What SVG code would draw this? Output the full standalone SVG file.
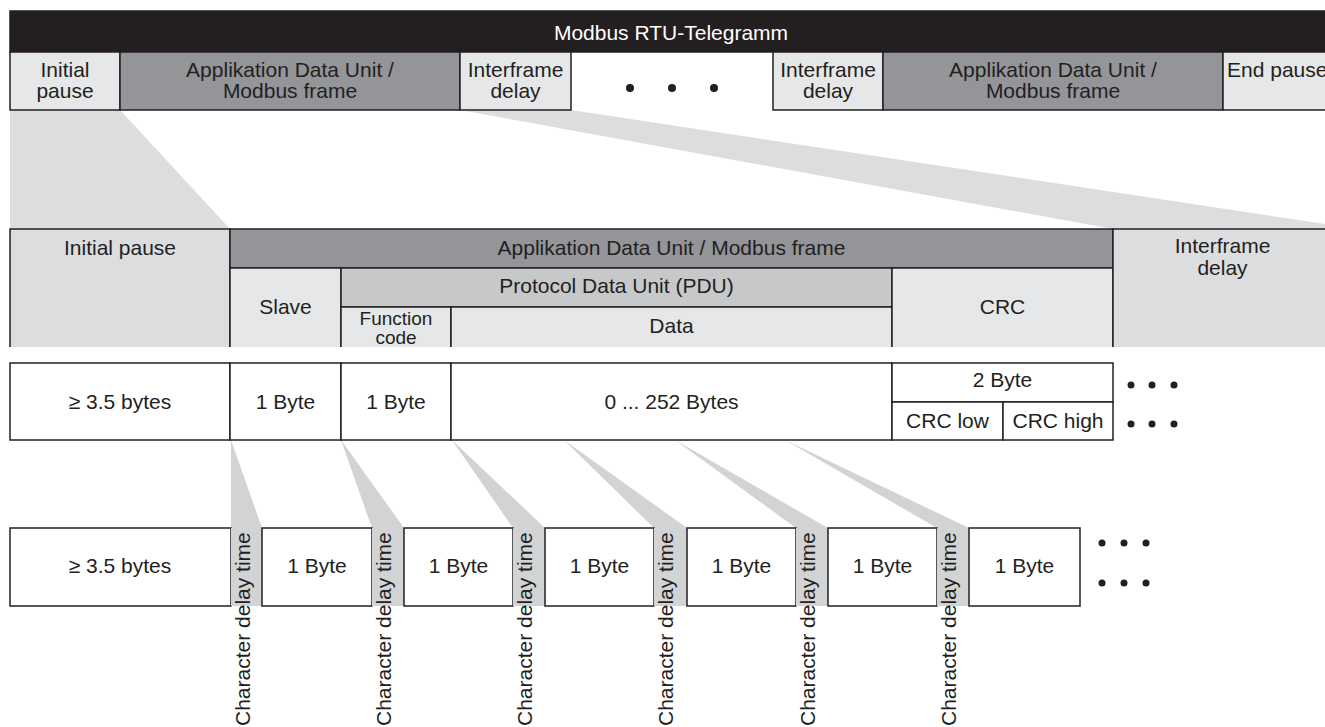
<svg xmlns="http://www.w3.org/2000/svg" width="1325" height="727" viewBox="0 0 1325 727">
<style>
  text { font-family: "Liberation Sans", Arial, sans-serif; font-size: 21px; fill: #231f20; text-anchor: middle; }
  .box { stroke: #231f20; stroke-width: 1.5; }
  .black { fill: #231f20; }
  .dark { fill: #939598; }
  .mid { fill: #c7c8ca; }
  .light { fill: #e6e7e8; }
  .pale { fill: #dcdddf; }
  .white { fill: #ffffff; }
  .band { fill: #dcdddf; }
  .cband { fill: #d1d3d4; }
  .ln { stroke: #231f20; stroke-width: 1.5; fill: none; }
  .dot { fill: #231f20; }
  .rot { text-anchor: start; }
  .small { font-size: 19px; }
</style>

<g id="connectors">
  <polygon class="band" points="10,110 120,110 230,229 10,229"/>
  <polygon class="band" points="460,110 571,110 1325,224 1325,229 1113,229"/>
  <polygon class="cband" points="231,440 262,528 231,528"/>
  <polygon class="cband" points="341,440 372,528 404,528"/>
  <polygon class="cband" points="452,440 513,528 545,528"/>
  <polygon class="cband" points="564,440 654,528 687,528"/>
  <polygon class="cband" points="675,440 796,528 828,528"/>
  <polygon class="cband" points="785,440 937,528 969,528"/>
</g>

<!-- Top telegram row -->
<g id="telegram-title">
  <rect class="box black" x="10" y="11" width="1320" height="41"/>
  <text x="671" y="40" style="fill:#ffffff">Modbus RTU-Telegramm</text>
</g>
<g id="top-initial-pause">
  <rect class="box light" x="10" y="52" width="110" height="58"/>
  <text x="65" y="77">Initial</text>
  <text x="65" y="98">pause</text>
</g>
<g id="top-adu-1">
  <rect class="box dark" x="120" y="52" width="340" height="58"/>
  <text x="290" y="77">Applikation Data Unit /</text>
  <text x="290" y="98">Modbus frame</text>
</g>
<g id="top-interframe-1">
  <rect class="box light" x="460" y="52" width="111" height="58"/>
  <text x="515.5" y="77">Interframe</text>
  <text x="515.5" y="98">delay</text>
</g>
<g id="top-dots">
  <circle class="dot" cx="630" cy="88" r="4"/>
  <circle class="dot" cx="672" cy="88" r="4"/>
  <circle class="dot" cx="714" cy="88" r="4"/>
</g>
<g id="top-interframe-2">
  <rect class="box light" x="773" y="52" width="110" height="58"/>
  <text x="828" y="77">Interframe</text>
  <text x="828" y="98">delay</text>
</g>
<g id="top-adu-2">
  <rect class="box dark" x="883" y="52" width="340" height="58"/>
  <text x="1053" y="77">Applikation Data Unit /</text>
  <text x="1053" y="98">Modbus frame</text>
</g>
<g id="top-end-pause">
  <rect class="box light" x="1223" y="52" width="110" height="58"/>
  <text x="1227" y="77" style="text-anchor:start">End pause</text>
</g>

<!-- Middle structure -->
<g id="mid-initial-pause">
  <rect class="pale" x="10" y="229" width="220" height="118"/>
  <polyline class="ln" points="10,347 10,229 230,229 230,347"/>
  <text x="120" y="255">Initial pause</text>
</g>
<g id="mid-adu">
  <rect class="box dark" x="230" y="229" width="883" height="39"/>
  <text x="671.5" y="255">Applikation Data Unit / Modbus frame</text>
</g>
<g id="mid-slave">
  <rect class="light" x="230" y="268" width="111" height="79"/>
  <polyline class="ln" points="230,347 230,268 341,268 341,347"/>
  <text x="285.5" y="314">Slave</text>
</g>
<g id="mid-pdu">
  <rect class="box mid" x="341" y="268" width="551" height="39"/>
  <text x="616.5" y="293">Protocol Data Unit (PDU)</text>
</g>
<g id="mid-function-code">
  <rect class="light" x="341" y="307" width="110" height="40"/>
  <polyline class="ln" points="341,347 341,307 451,307 451,347"/>
  <text class="small" x="396" y="325">Function</text>
  <text class="small" x="396" y="344">code</text>
</g>
<g id="mid-data">
  <rect class="light" x="451" y="307" width="441" height="40"/>
  <polyline class="ln" points="451,347 451,307 892,307 892,347"/>
  <text x="671.5" y="333">Data</text>
</g>
<g id="mid-crc">
  <rect class="light" x="892" y="268" width="221" height="79"/>
  <polyline class="ln" points="892,347 892,268 1113,268 1113,347"/>
  <text x="1002.5" y="314">CRC</text>
</g>
<g id="mid-interframe">
  <rect class="pale" x="1113" y="229" width="215" height="118"/>
  <polyline class="ln" points="1113,347 1113,229 1330,229"/>
  <text x="1222.5" y="253">Interframe</text>
  <text x="1222.5" y="275">delay</text>
</g>

<!-- Byte row -->
<g id="bytes-pause">
  <rect class="box white" x="10" y="363" width="220" height="77"/>
  <text x="120" y="409">≥ 3.5 bytes</text>
</g>
<g id="bytes-slave">
  <rect class="box white" x="230" y="363" width="111" height="77"/>
  <text x="285.5" y="409">1 Byte</text>
</g>
<g id="bytes-function">
  <rect class="box white" x="341" y="363" width="110" height="77"/>
  <text x="396" y="409">1 Byte</text>
</g>
<g id="bytes-data">
  <rect class="box white" x="451" y="363" width="441" height="77"/>
  <text x="671.5" y="409">0 ... 252 Bytes</text>
</g>
<g id="bytes-crc">
  <rect class="box white" x="892" y="363" width="221" height="39"/>
  <text x="1002.5" y="387">2 Byte</text>
</g>
<g id="bytes-crc-low">
  <rect class="box white" x="892" y="402" width="111" height="38"/>
  <text x="947.5" y="428">CRC low</text>
</g>
<g id="bytes-crc-high">
  <rect class="box white" x="1003" y="402" width="110" height="38"/>
  <text x="1058" y="428">CRC high</text>
</g>
<g id="bytes-dots">
  <circle class="dot" cx="1131" cy="385" r="3.5"/>
  <circle class="dot" cx="1152" cy="385" r="3.5"/>
  <circle class="dot" cx="1174" cy="385" r="3.5"/>
  <circle class="dot" cx="1131" cy="424" r="3.5"/>
  <circle class="dot" cx="1152" cy="424" r="3.5"/>
  <circle class="dot" cx="1174" cy="424" r="3.5"/>
</g>

<!-- Character row -->
<g id="char-pause">
  <rect class="box white" x="10" y="528" width="221" height="78"/>
  <text x="120" y="573">≥ 3.5 bytes</text>
</g>
<g id="char-delay-1">
  <rect class="cband" x="231" y="528" width="31" height="78"/>
  <text class="rot" transform="translate(250,726) rotate(-90)">Character delay time</text>
</g>
<g id="char-byte-1">
  <rect class="box white" x="262" y="528" width="110" height="78"/>
  <text x="317" y="573">1 Byte</text>
</g>
<g id="char-delay-2">
  <rect class="cband" x="372" y="528" width="32" height="78"/>
  <text class="rot" transform="translate(391,726) rotate(-90)">Character delay time</text>
</g>
<g id="char-byte-2">
  <rect class="box white" x="404" y="528" width="109" height="78"/>
  <text x="458.5" y="573">1 Byte</text>
</g>
<g id="char-delay-3">
  <rect class="cband" x="513" y="528" width="32" height="78"/>
  <text class="rot" transform="translate(532,726) rotate(-90)">Character delay time</text>
</g>
<g id="char-byte-3">
  <rect class="box white" x="545" y="528" width="109" height="78"/>
  <text x="599.5" y="573">1 Byte</text>
</g>
<g id="char-delay-4">
  <rect class="cband" x="654" y="528" width="33" height="78"/>
  <text class="rot" transform="translate(673,726) rotate(-90)">Character delay time</text>
</g>
<g id="char-byte-4">
  <rect class="box white" x="687" y="528" width="109" height="78"/>
  <text x="741.5" y="573">1 Byte</text>
</g>
<g id="char-delay-5">
  <rect class="cband" x="796" y="528" width="32" height="78"/>
  <text class="rot" transform="translate(815,726) rotate(-90)">Character delay time</text>
</g>
<g id="char-byte-5">
  <rect class="box white" x="828" y="528" width="109" height="78"/>
  <text x="882.5" y="573">1 Byte</text>
</g>
<g id="char-delay-6">
  <rect class="cband" x="937" y="528" width="32" height="78"/>
  <text class="rot" transform="translate(956,726) rotate(-90)">Character delay time</text>
</g>
<g id="char-byte-6">
  <rect class="box white" x="969" y="528" width="111" height="78"/>
  <text x="1024.5" y="573">1 Byte</text>
</g>
<g id="char-dots">
  <circle class="dot" cx="1102" cy="543" r="3.5"/>
  <circle class="dot" cx="1124" cy="543" r="3.5"/>
  <circle class="dot" cx="1146" cy="543" r="3.5"/>
  <circle class="dot" cx="1102" cy="583" r="3.5"/>
  <circle class="dot" cx="1124" cy="583" r="3.5"/>
  <circle class="dot" cx="1146" cy="583" r="3.5"/>
</g>
</svg>
